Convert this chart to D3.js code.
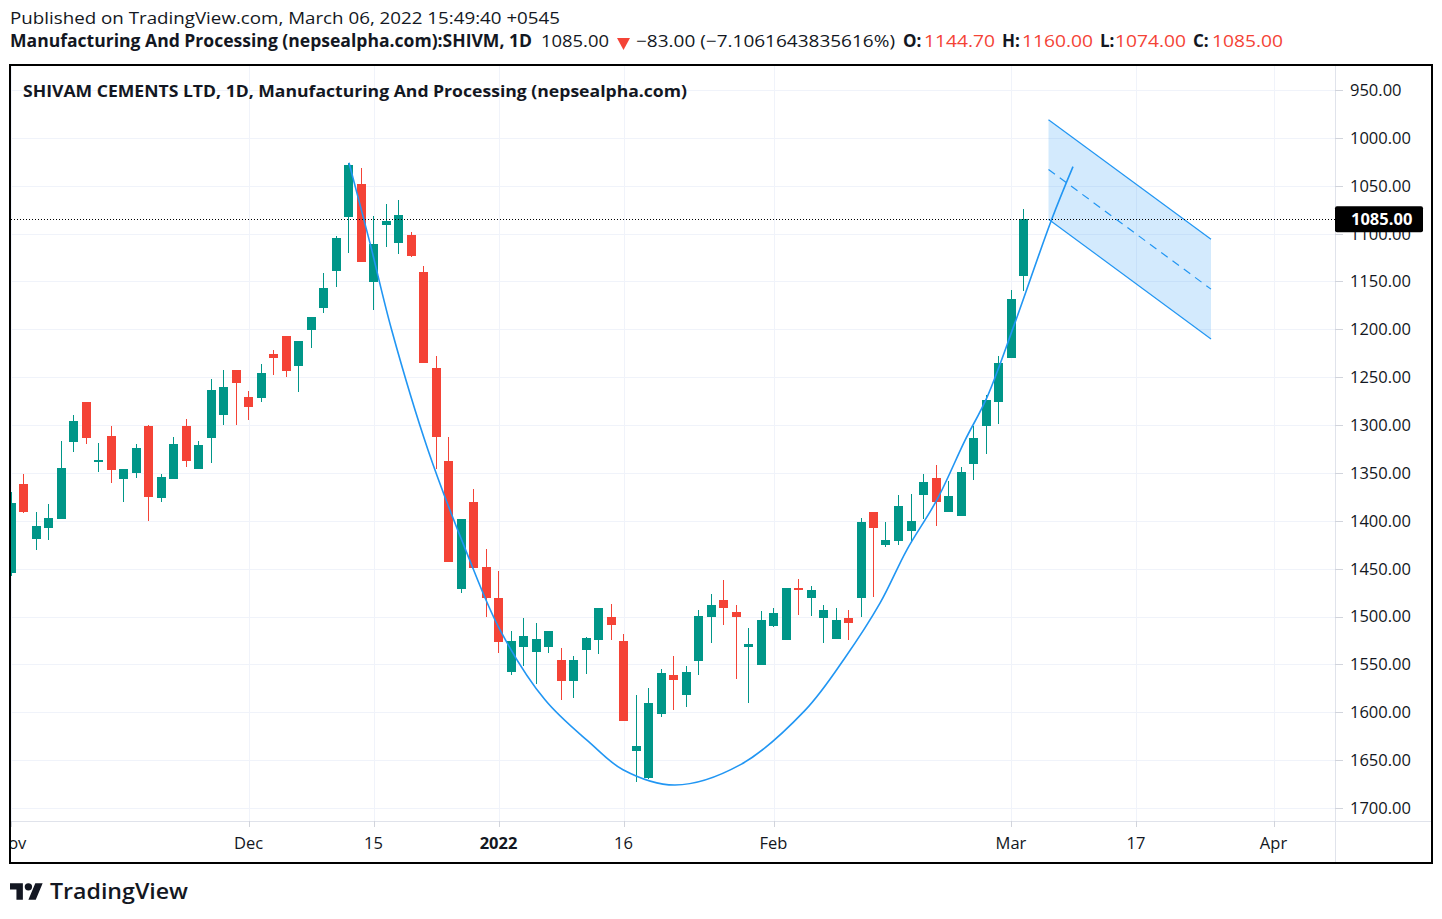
<!DOCTYPE html>
<html><head><meta charset="utf-8">
<script src="https://cdn.jsdelivr.net/npm/d3@7"></script>
<style>
html,body{margin:0;padding:0;background:#fff;}
svg{display:block;font-family:"Open Sans",sans-serif;}
</style></head><body>
<svg id="chart" width="1442" height="919"></svg>
<script>
// ---- data (bar index = position on the time axis) ----
const opens  = [1455,1362,1419,1408,1398,1318,1276,1339,1311,1356,1350,1301,1376,1356,1301,1346,1313,1289,1242.5,1271,
                1272,1226,1207,1238,1201,1178,1139,1083,1048,1151,1091,1109.5,1101.5,1140,1240,1337.5,1471,1380,1448,1481,
                1558,1531.5,1537,1531.5,1545,1567,1535,1524,1500.5,1526,1640,1669,1601.5,1561,1582,1546,1500,1483,1495,1531.5,
                1551,1509.6,1525,1470,1481,1502,1523,1501.5,1481,1391,1425,1421,1411,1373,1355,1390.5,1395,1341,1301,1275.6,
                1229.6,1144.7];
const highs  = [1458,1392,1430,1420,1398,1328,1320,1349,1360,1380,1355,1400,1380,1356,1344,1346,1340,1300,1300,1295,
                1276,1248,1250,1265,1220,1183,1156,1120,1130,1180,1114,1121,1124,1235,1346,1443,1475,1449,1501,1538,
                1561,1552,1570,1538,1587,1585,1560,1539,1525,1609,1672.5,1669.4,1605,1598,1594,1561,1528,1508.5,1565,1590,
                1551,1510.6,1525,1498,1499,1528,1523,1525,1500,1480,1427,1425,1422,1398,1405,1390.5,1395,1357,1330,1298.6,
                1229.6,1160];
const lows   = [1370,1351,1391,1382,1317,1289,1276,1319,1301,1346,1320,1300,1351,1312,1294,1317,1252,1242,1242,1264,
                1236,1222,1207,1212,1187,1141,1102,1026,1031,1082,1069,1065,1098,1134,1228,1312.5,1398,1367,1429.5,1452,
                1515,1501.5,1507,1515,1533,1541,1521,1491,1487,1518,1582,1575,1555,1541,1552,1493,1476.5,1462,1488,1512,
                1494,1491,1470,1461,1468,1488,1491,1493,1397,1391,1401,1373,1372,1351,1342,1358,1344,1301,1269,1228,
                1159,1074];
const closes = [1381,1391,1405,1397,1345,1296,1313,1336.5,1347,1346,1324,1375,1354,1320,1338,1321,1263,1260,1256,1281,
                1246,1230,1244,1212,1187,1157,1105,1028,1130,1111,1087,1081,1123,1235,1312,1443,1398,1449,1481,1527,
                1526,1520,1523.5,1515,1567,1545,1522,1491,1508.5,1609,1635,1590,1559,1566,1558,1499,1488,1491,1501,1529,
                1504,1496,1470,1472,1472,1493,1504,1507,1401,1408,1420,1384.5,1400,1359.5,1380,1374,1349,1313.5,1274,1235,
                1168,1085];

const priceTicks = [950,1000,1050,1100,1150,1200,1250,1300,1350,1400,1450,1500,1550,1600,1650,1700];
const timeLabels = ["Nov","Dec","15","2022","16","Feb","Mar","17","Apr"];
const timeLabelIndex = [0,19,29,39,49,61,80,90,101];
const timeLabelBold = [false,false,false,true,false,false,false,false,false];

// hand-drawn curve (bar index, price)
const curveIndex = [27.04,28.72,30.46,33.36,36.48,39.12,42.72,46.32,48.96,53.12,58.32,63.52,66.72,69.52,71.68,74.08,76.32,78.08,80.32,83.26,84.96];
const curvePrice = [1026,1110,1201,1326,1434,1514,1587,1632,1660,1676,1655,1598,1543,1486,1430,1378,1316,1271,1193,1085,1030];

// parallel channel
const channelIndex  = [83, 96];
const channelUpper  = [981, 1106];
const channelMiddle = [1033, 1158];
const channelLower  = [1085, 1210];
const lastPrice = 1085;

// ---- layout ----
const W = 1442, H = 919;
const pane = {left: 11, right: 1335, top: 66, bottom: 821};
const svg = d3.select("#chart");
const x = d3.scaleLinear().domain([0, 100]).range([11, 11 + 100 * 12.5]);
const y = d3.scaleLinear().domain([950, 1700]).range([90, 808]);

const UP = "#009688", DOWN = "#F44336", BLUE = "#2196F3", TXT = "#131722", GRID = "#F0F3FA";

svg.append("rect").attr("width", W).attr("height", H).attr("fill", "#fff");

const defs = svg.append("defs");
defs.append("clipPath").attr("id", "paneClip").append("rect")
  .attr("x", pane.left).attr("y", pane.top).attr("width", pane.right - pane.left).attr("height", pane.bottom - pane.top);
defs.append("clipPath").attr("id", "timeClip").append("rect")
  .attr("x", pane.left).attr("y", pane.bottom).attr("width", pane.right - pane.left).attr("height", 42);

const g = svg.append("g").attr("clip-path", "url(#paneClip)");

// grid
g.append("g").selectAll("line").data(priceTicks).join("line")
  .attr("x1", pane.left).attr("x2", pane.right)
  .attr("y1", d => Math.round(y(d)) + 0.5).attr("y2", d => Math.round(y(d)) + 0.5)
  .attr("stroke", GRID).attr("stroke-width", 1);
g.append("g").selectAll("line").data(timeLabelIndex).join("line")
  .attr("x1", d => Math.round(x(d)) + 0.5).attr("x2", d => Math.round(x(d)) + 0.5)
  .attr("y1", pane.top).attr("y2", pane.bottom)
  .attr("stroke", GRID).attr("stroke-width", 1);

// title inside pane
svg.append("text").attr("x", 23).attr("y", 97).attr("font-size", 16.5).attr("font-weight", 700).attr("fill", TXT)
  .attr("textLength", 664).attr("lengthAdjust", "spacingAndGlyphs")
  .text("SHIVAM CEMENTS LTD, 1D, Manufacturing And Processing (nepsealpha.com)");

// channel
const cx0 = x(channelIndex[0]), cx1 = x(channelIndex[1]);
g.append("path")
  .attr("d", `M${cx0},${y(channelUpper[0])}L${cx1},${y(channelUpper[1])}L${cx1},${y(channelLower[1])}L${cx0},${y(channelLower[0])}Z`)
  .attr("fill", BLUE).attr("fill-opacity", 0.2);
[[channelUpper, null], [channelLower, null], [channelMiddle, "8,6"]].forEach(([arr, dash]) => {
  g.append("line").attr("x1", cx0).attr("x2", cx1).attr("y1", y(arr[0])).attr("y2", y(arr[1]))
    .attr("stroke", BLUE).attr("stroke-width", 1.2).attr("stroke-dasharray", dash);
});

// candles
const candles = d3.range(opens.length).map(i => ({i, o: opens[i], h: highs[i], l: lows[i], c: closes[i]}));
const cg = g.append("g").attr("shape-rendering", "crispEdges");
const bodyW = 9;
candles.forEach(d => {
  const bx = Math.round(x(d.i) - bodyW / 2);
  const col = d.c < d.o ? UP : DOWN;
  const yo = y(d.o), yc = y(d.c);
  const top = Math.round(Math.min(yo, yc)), bot = Math.round(Math.max(yo, yc));
  cg.append("rect").attr("x", bx + 4).attr("width", 1)
    .attr("y", Math.round(y(d.l))).attr("height", Math.max(1, Math.round(y(d.h)) - Math.round(y(d.l))))
    .attr("fill", col);
  cg.append("rect").attr("x", bx).attr("width", bodyW)
    .attr("y", top).attr("height", Math.max(1, bot - top)).attr("fill", col);
});

// curve drawing
const curvePts = curveIndex.map((v, k) => [x(v), y(curvePrice[k])]);
g.append("path").attr("d", d3.line().curve(d3.curveCatmullRom.alpha(0.5))(curvePts))
  .attr("fill", "none").attr("stroke", BLUE).attr("stroke-width", 1.6);

// last price dotted line
g.append("line").attr("x1", pane.left).attr("x2", pane.right)
  .attr("y1", Math.round(y(lastPrice)) + 0.5).attr("y2", Math.round(y(lastPrice)) + 0.5)
  .attr("stroke", "#000").attr("stroke-width", 1).attr("stroke-dasharray", "1,2");

// axis separators
svg.append("line").attr("x1", pane.right + 0.5).attr("x2", pane.right + 0.5).attr("y1", pane.top).attr("y2", 863)
  .attr("stroke", "#E0E3EB");
svg.append("line").attr("x1", pane.left).attr("x2", 1432).attr("y1", pane.bottom + 0.5).attr("y2", pane.bottom + 0.5)
  .attr("stroke", "#E0E3EB");

// price axis
const pa = svg.append("g");
pa.selectAll("line").data(priceTicks).join("line")
  .attr("x1", pane.right).attr("x2", pane.right + 8)
  .attr("y1", d => Math.round(y(d)) + 0.5).attr("y2", d => Math.round(y(d)) + 0.5)
  .attr("stroke", "#D1D4DC");
pa.selectAll("text").data(priceTicks).join("text")
  .attr("x", 1350).attr("y", d => y(d)).attr("dy", "0.36em")
  .attr("font-size", 16.5).attr("fill", TXT)
  .text(d => d3.format(".2f")(d));

// last price label
svg.append("rect").attr("x", 1335).attr("y", y(lastPrice) - 13).attr("width", 88).attr("height", 26)
  .attr("rx", 2).attr("fill", "#000");
svg.append("text").attr("x", 1351).attr("y", y(lastPrice)).attr("dy", "0.36em")
  .attr("font-size", 16.5).attr("font-weight", 700).attr("fill", "#fff").text(d3.format(".2f")(lastPrice));

// time axis
const ta = svg.append("g").attr("clip-path", "url(#timeClip)");
ta.selectAll("line").data(timeLabelIndex).join("line")
  .attr("x1", d => Math.round(x(d)) + 0.5).attr("x2", d => Math.round(x(d)) + 0.5)
  .attr("y1", pane.bottom).attr("y2", pane.bottom + 6).attr("stroke", "#D1D4DC");
ta.selectAll("text").data(timeLabels).join("text")
  .attr("x", (d, k) => x(timeLabelIndex[k])).attr("y", 849)
  .attr("text-anchor", "middle").attr("font-size", 16.5)
  .attr("font-weight", (d, k) => timeLabelBold[k] ? 700 : 400).attr("fill", TXT)
  .text(d => d);

// frame
svg.append("rect").attr("x", 10).attr("y", 65).attr("width", 1422).attr("height", 798)
  .attr("fill", "none").attr("stroke", "#000").attr("stroke-width", 2);

// header
svg.append("text").attr("x", 10).attr("y", 24).attr("font-size", 17).attr("fill", TXT)
  .attr("textLength", 550).attr("lengthAdjust", "spacingAndGlyphs")
  .text("Published on TradingView.com, March 06, 2022 15:49:40 +0545");
const hdr = [
  {t: "Manufacturing And Processing (nepsealpha.com):SHIVM, 1D", x: 10, b: true, c: TXT, w: 522},
  {t: "1085.00", x: 541, b: false, c: TXT, w: 68},
  {t: "\u221283.00 (\u22127.1061643835616%)", x: 636, b: false, c: TXT, w: 259},
  {t: "O:", x: 903, b: true, c: TXT}, {t: "1144.70", x: 924, b: false, c: DOWN, w: 71},
  {t: "H:", x: 1002, b: true, c: TXT}, {t: "1160.00", x: 1022, b: false, c: DOWN, w: 71},
  {t: "L:", x: 1100, b: true, c: TXT}, {t: "1074.00", x: 1115, b: false, c: DOWN, w: 71},
  {t: "C:", x: 1193, b: true, c: TXT}, {t: "1085.00", x: 1212, b: false, c: DOWN, w: 71}
];
const ht = svg.append("g").selectAll("text").data(hdr).join("text")
  .attr("x", d => d.x).attr("y", 47).attr("font-size", 17)
  .attr("font-weight", d => d.b ? 700 : 400).attr("fill", d => d.c).text(d => d.t);
ht.filter(d => d.w).attr("textLength", d => d.w).attr("lengthAdjust", "spacingAndGlyphs");
svg.append("path").attr("d", "M617,38L630,38L623.5,50Z").attr("fill", DOWN);

// logo
const logo = svg.append("g").attr("transform", "translate(10,879.5) scale(0.92)").attr("fill", TXT);
logo.append("path").attr("d", "M14 22H7V11H0V4h14v18zM28 22h-8l7.5-18h8L28 22z");
logo.append("circle").attr("cx", 20).attr("cy", 8).attr("r", 4);
svg.append("text").attr("x", 50).attr("y", 899).attr("font-size", 22).attr("font-weight", 600)
  .attr("fill", TXT).attr("textLength", 138).attr("lengthAdjust", "spacingAndGlyphs").text("TradingView");
</script>
</body></html>
